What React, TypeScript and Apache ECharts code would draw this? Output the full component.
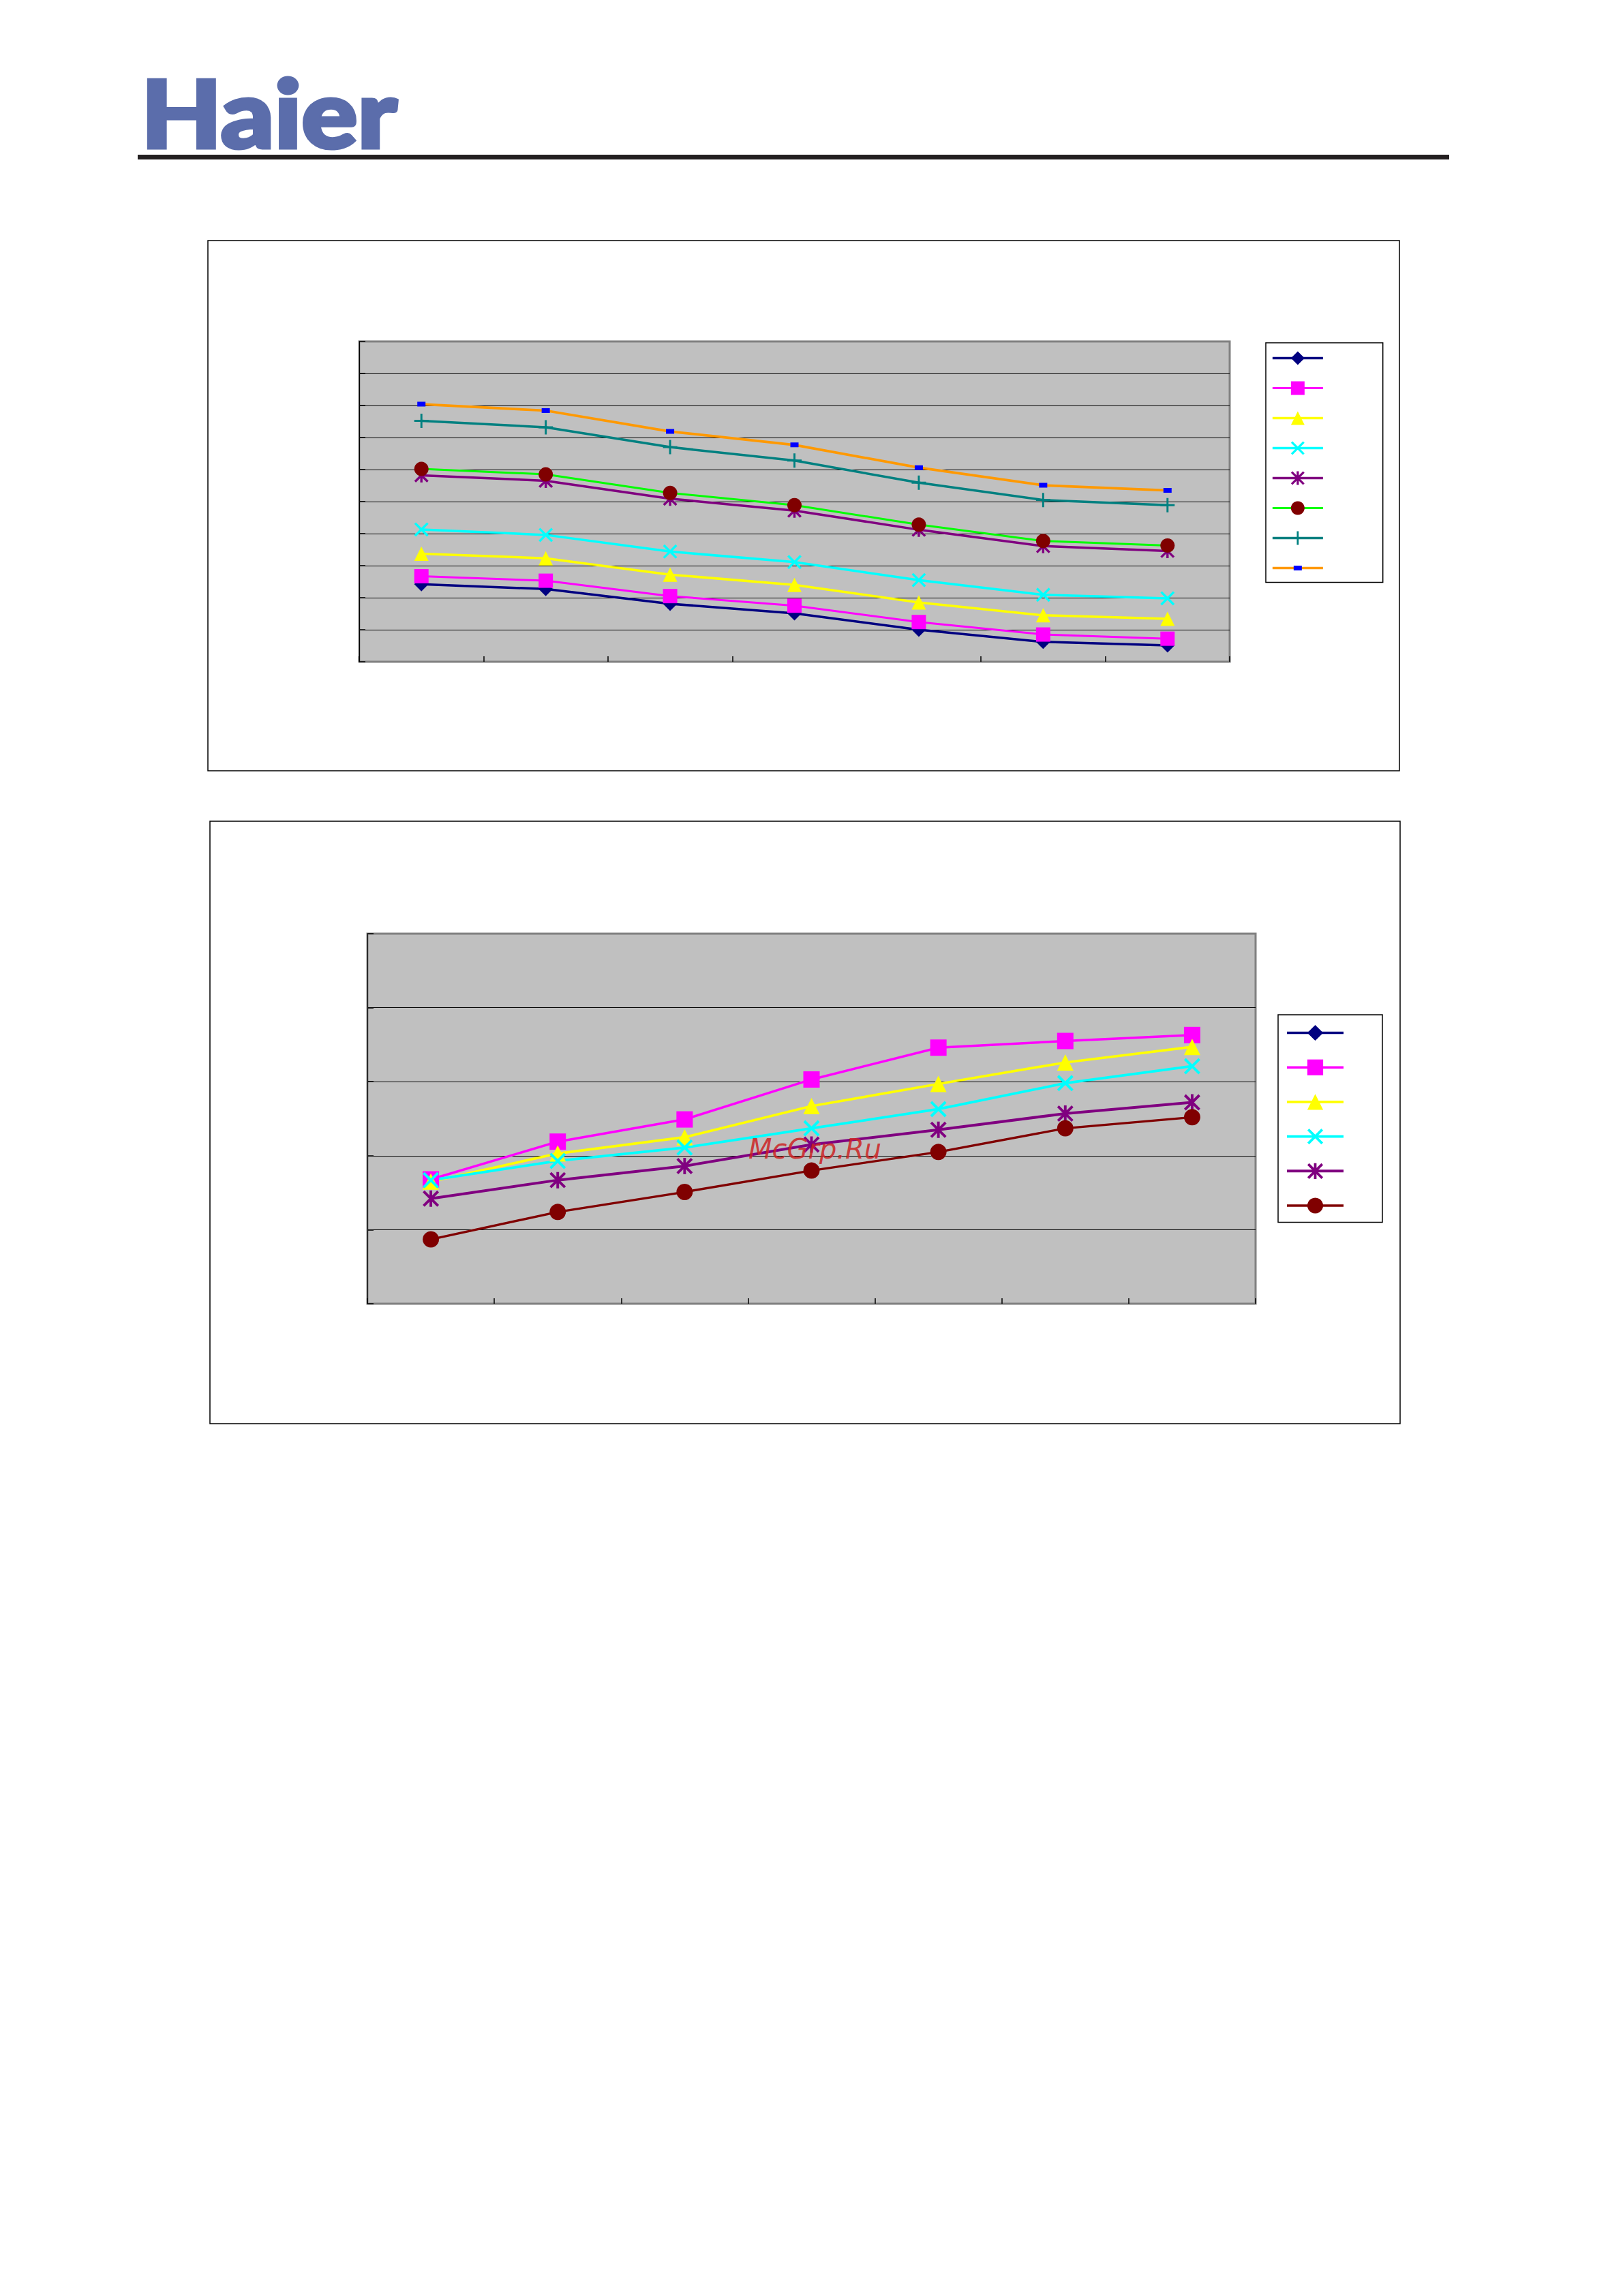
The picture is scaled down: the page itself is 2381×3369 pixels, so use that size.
import React, { useEffect, useRef } from 'react';
import * as echarts from 'echarts';

// ---------- data (in grid units) ----------
const categories = ['1', '2', '3', '4', '5', '6', '7'];

// chart 1 (10 grid intervals)
const c1Navy = [2.42, 2.27, 1.81, 1.51, 1.0, 0.62, 0.51];
const c1Magenta = [2.67, 2.53, 2.05, 1.75, 1.24, 0.85, 0.72];
const c1Yellow = [3.37, 3.23, 2.72, 2.4, 1.85, 1.45, 1.34];
const c1Cyan = [4.13, 3.96, 3.44, 3.11, 2.55, 2.09, 1.98];
const c1Purple = [5.82, 5.65, 5.09, 4.72, 4.12, 3.61, 3.46];
const c1Green = [6.02, 5.85, 5.27, 4.89, 4.28, 3.77, 3.63];
const c1Teal = [7.52, 7.32, 6.7, 6.28, 5.59, 5.05, 4.89];
const c1Orange = [8.04, 7.84, 7.19, 6.77, 6.06, 5.51, 5.35];

// chart 2 (5 grid intervals)
const c2Navy: number[] = [];
const c2Magenta = [1.68, 2.19, 2.49, 3.03, 3.46, 3.55, 3.63];
const c2Yellow = [1.65, 2.03, 2.25, 2.67, 2.97, 3.26, 3.47];
const c2Cyan = [1.67, 1.93, 2.11, 2.37, 2.63, 2.98, 3.21];
const c2Purple = [1.42, 1.67, 1.86, 2.15, 2.35, 2.57, 2.72];
const c2Maroon = [0.87, 1.24, 1.51, 1.8, 2.05, 2.37, 2.52];

const c1Names = ['c1-1', 'c1-2', 'c1-3', 'c1-4', 'c1-5', 'c1-6', 'c1-7', 'c1-8'];
const c2Names = ['c2-1', 'c2-2', 'c2-3', 'c2-4', 'c2-5', 'c2-6'];

// ---------- marker shapes ----------
function bars(angles: number[], halfLens: number[], halfThick: number): string {
  return (
    'path://' +
    angles
      .map((a, i) => {
        const r = (a * Math.PI) / 180;
        const c = Math.cos(r);
        const s = Math.sin(r);
        const L = halfLens[i];
        const pts = [
          [-L, -halfThick],
          [L, -halfThick],
          [L, halfThick],
          [-L, halfThick],
        ].map(([x, y]) => [50 + x * c - y * s, 50 + x * s + y * c]);
        return 'M' + pts.map((p) => p[0].toFixed(2) + ' ' + p[1].toFixed(2)).join('L') + 'Z';
      })
      .join('')
  );
}
const SYM_X = bars([45, 135], [50, 50], 6.5);
const SYM_AST = bars([90, 45, 135], [40, 50, 50], 6.5);
const SYM_PLUS = bars([0, 90], [50, 50], 7);
const SYM_SMALLRECT =
  'path://M0 0L0.01 0L0 0.01Z M100 100L99.99 100L100 99.99Z M20 32.5L80 32.5L80 67.5L20 67.5Z';

function mk(
  name: string,
  data: number[],
  lineColor: string,
  symbol: string,
  symbolSize: number,
  markerColor: string,
  width: number,
  idx: number
) {
  return {
    type: 'line',
    name,
    data,
    xAxisIndex: idx,
    yAxisIndex: idx,
    symbol,
    symbolSize,
    showAllSymbol: true,
    lineStyle: { color: lineColor, width },
    itemStyle: { color: markerColor, borderWidth: 0 },
    silent: true,
    emphasis: { disabled: true },
  };
}

export default function App() {
  const ref = useRef<HTMLDivElement>(null);
  useEffect(() => {
    document.body.style.margin = '0';
    if (!ref.current) return;
    const chart = echarts.init(ref.current, undefined, { renderer: 'svg' });

    const xAxisBase = (gridIndex: number, skip: number[]) => ({
      type: 'category',
      gridIndex,
      data: categories,
      boundaryGap: true,
      axisLine: { show: false },
      axisTick: {
        show: true,
        inside: true,
        length: 8,
        lineStyle: { color: '#000', width: 1.5 },
        interval: (i: number) => skip.indexOf(i) < 0,
      },
      axisLabel: { show: false },
      splitLine: { show: false },
    });
    const yAxisBase = (gridIndex: number, max: number) => ({
      type: 'value',
      gridIndex,
      min: 0,
      max,
      interval: 1,
      axisLine: { show: true, lineStyle: { color: '#000', width: 1 } },
      axisTick: { show: true, inside: true, length: 9, lineStyle: { color: '#000', width: 1.5 } },
      axisLabel: { show: false },
      splitLine: {
        show: true,
        showMinLine: false,
        showMaxLine: false,
        lineStyle: { color: '#000', width: 1.2 },
      },
    });
    const legendBase = {
      orient: 'vertical',
      formatter: () => '',
      borderColor: '#000',
      borderWidth: 1.5,
      backgroundColor: '#fff',
      selectedMode: false,
      lineStyle: { width: 'inherit' },
      itemStyle: { borderWidth: 0 },
      textStyle: { fontSize: 10 },
    };

    const option: any = {
      animation: false,
      backgroundColor: '#fff',
      grid: [
        {
          left: 527,
          top: 501,
          width: 1277,
          height: 470,
          show: true,
          backgroundColor: '#c0c0c0',
          borderColor: '#808080',
          borderWidth: 3,
        },
        {
          left: 539,
          top: 1370,
          width: 1303,
          height: 543,
          show: true,
          backgroundColor: '#c0c0c0',
          borderColor: '#808080',
          borderWidth: 3,
        },
      ],
      xAxis: [xAxisBase(0, [4]), xAxisBase(1, [])],
      yAxis: [yAxisBase(0, 10), yAxisBase(1, 5)],
      legend: [
        {
          ...legendBase,
          left: 1857,
          top: 503,
          padding: [10, 86, 11, 8],
          itemWidth: 74,
          itemHeight: 25,
          itemGap: 21.5,
          data: c1Names,
        },
        {
          ...legendBase,
          left: 1875,
          top: 1489,
          padding: [12, 55, 13, 11],
          itemWidth: 83,
          itemHeight: 29,
          itemGap: 24.6,
          data: c2Names,
        },
      ],
      series: [
        mk(c1Names[0], c1Navy, '#000080', 'diamond', 21, '#000080', 3.5, 0),
        mk(c1Names[1], c1Magenta, '#ff00ff', 'rect', 21, '#ff00ff', 3, 0),
        mk(c1Names[2], c1Yellow, '#ffff00', 'triangle', 21, '#ffff00', 3.5, 0),
        mk(c1Names[3], c1Cyan, '#00ffff', SYM_X, 21, '#00ffff', 3.5, 0),
        mk(c1Names[4], c1Purple, '#800080', SYM_AST, 21, '#800080', 3.5, 0),
        mk(c1Names[5], c1Green, '#00ff00', 'circle', 21, '#800000', 3, 0),
        mk(c1Names[6], c1Teal, '#008080', SYM_PLUS, 21, '#008080', 3.5, 0),
        mk(c1Names[7], c1Orange, '#ff9900', SYM_SMALLRECT, 20, '#0000ff', 3.7, 0),
        mk(c2Names[0], c2Navy, '#000080', 'diamond', 24, '#000080', 3.7, 1),
        mk(c2Names[1], c2Magenta, '#ff00ff', 'rect', 24, '#ff00ff', 3.5, 1),
        mk(c2Names[2], c2Yellow, '#ffff00', 'triangle', 24, '#ffff00', 3.7, 1),
        mk(c2Names[3], c2Cyan, '#00ffff', SYM_X, 24, '#00ffff', 3.7, 1),
        mk(c2Names[4], c2Purple, '#800080', SYM_AST, 24, '#800080', 4, 1),
        mk(c2Names[5], c2Maroon, '#800000', 'circle', 24, '#800000', 3.3, 1),
      ],
      graphic: [
        {
          type: 'text',
          x: 207,
          y: 164,
          scaleX: 1.12,
          silent: true,
          style: {
            text: 'Haier',
            fontFamily: 'Lato, "Open Sans", sans-serif',
            fontWeight: 900,
            fontSize: 137,
            fill: '#5b6dab',
            stroke: '#5b6dab',
            lineWidth: 5,
            textAlign: 'left',
            textVerticalAlign: 'middle',
          },
        },
        {
          type: 'rect',
          silent: true,
          shape: { x: 202, y: 227, width: 1924, height: 7 },
          style: { fill: '#231f20' },
        },
        {
          type: 'rect',
          silent: true,
          shape: { x: 305, y: 353, width: 1748, height: 778 },
          style: { fill: 'none', stroke: '#000', lineWidth: 1.5 },
        },
        {
          type: 'rect',
          silent: true,
          shape: { x: 308, y: 1205, width: 1746, height: 884 },
          style: { fill: 'none', stroke: '#000', lineWidth: 1.5 },
        },
        {
          type: 'text',
          x: 1098,
          y: 1686,
          silent: true,
          z: 100,
          style: {
            text: 'McGrp.Ru',
            fontFamily: '"DejaVu Sans", sans-serif',
            fontStyle: 'italic',
            fontSize: 40,
            fill: 'rgba(205,35,35,0.85)',
            textAlign: 'left',
            textVerticalAlign: 'middle',
          },
        },
      ],
    };
    chart.setOption(option);
    return () => chart.dispose();
  }, []);
  return <div ref={ref} style={{ width: 2381, height: 3369 }} />;
}
